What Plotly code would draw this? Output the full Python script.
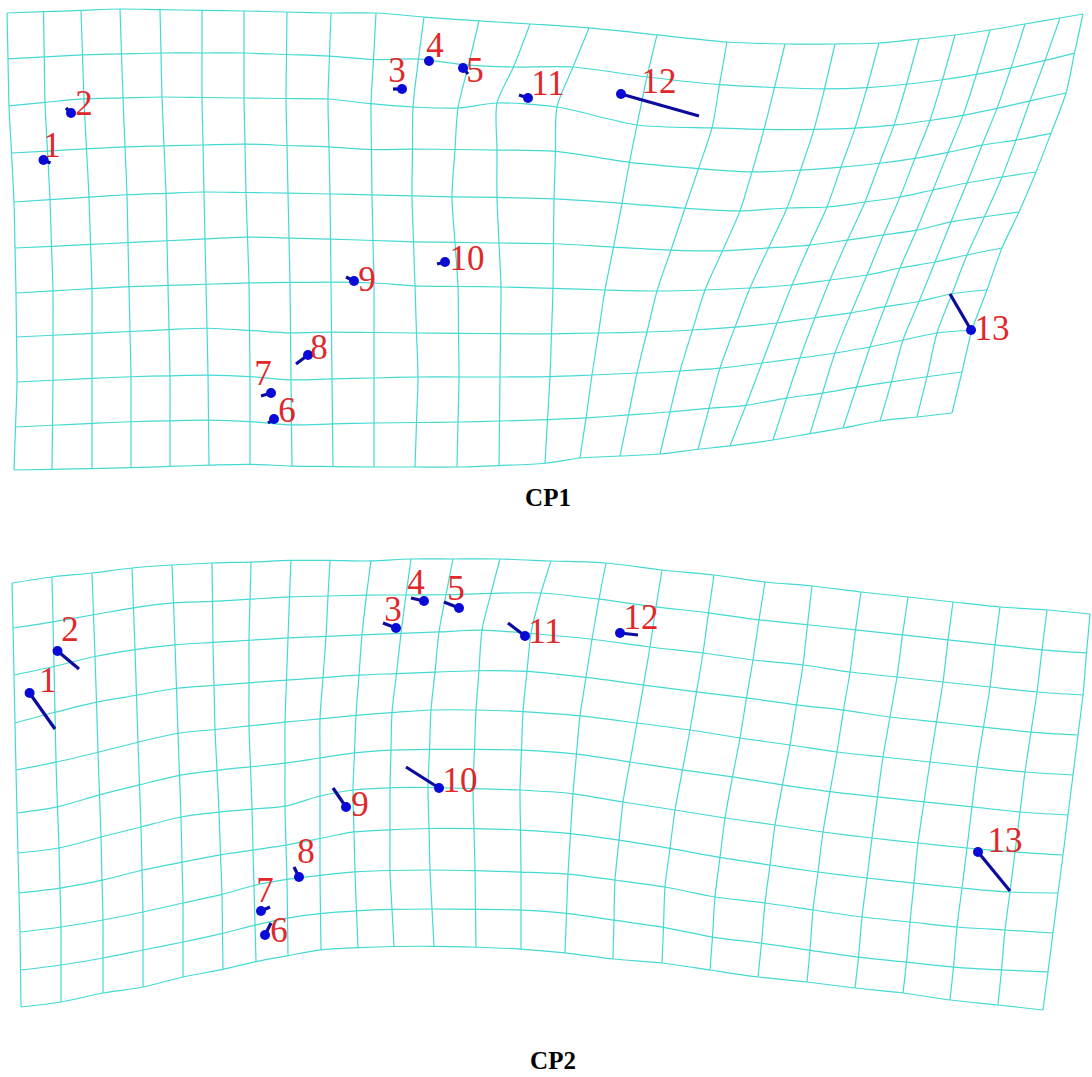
import numpy as np
import plotly.graph_objects as go

# ---------------- data (pixel coordinates) ----------------
landmark_ids = [str(i) for i in range(1, 14)]

# rows at which the x position of every vertical grid line was read
col_read_rows = [0, 2, 4, 6, 8, 10]

# CP1: x of each of the 25 vertical grid lines at rows 0, 2, 4, 6, 8, 10
cp1_col_x = [
    [7, 9, 14, 16, 17, 14], [43.5, 45, 50, 53, 53, 52], [81, 84, 89, 92, 92, 92],
    [120, 123, 127, 129, 131, 131], [160, 162, 166, 168, 170, 170], [202, 202, 204, 206, 208, 209],
    [244, 244, 246, 249, 250, 250], [287, 286, 288, 290, 291, 292], [331, 328, 330, 331, 332, 333],
    [376, 371, 372, 374, 374, 374], [424, 413, 412, 415, 418, 415], [479, 458, 452, 458, 459, 457],
    [530, 497, 497, 501, 500, 499], [589, 557, 554, 553, 550, 545], [657, 637, 622, 605, 592, 580],
    [727, 712, 685, 657, 637, 620], [785, 764, 740, 705, 680, 660], [835, 814, 787, 750, 720, 698],
    [879, 855, 827, 792, 762, 730], [919, 894, 865, 830, 800, 773], [955, 930, 900, 867, 835, 810],
    [990, 963, 933, 900, 870, 843], [1025, 997, 967, 935, 903, 880], [1060, 1030, 1002, 967, 937, 917],
    [1083, 1066, 1036, 1002, 972, 952],
]
# CP1: each of the 11 horizontal grid lines as (x, y) points
cp1_rows = [
    [(7, 13), (120, 9), (244, 11), (331, 13), (380, 13), (423, 17), (480, 21), (530, 24), (590, 28),
     (658, 35), (727, 42), (785, 44), (835, 44), (879, 43), (919, 39), (955, 35), (990, 30),
     (1025, 24), (1060, 18), (1083, 14)],
    [(7, 59), (80, 55), (160, 53), (244, 53), (329, 56), (380, 60), (423, 59), (463, 65), (513, 67),
     (573, 67), (647, 77), (723, 85), (785, 88), (835, 89), (879, 87), (919, 83), (955, 78),
     (990, 72), (1025, 65), (1060, 57), (1075, 53)],
    [(7, 106), (80, 99), (160, 97), (244, 98), (329, 99), (374, 104), (413, 107), (458, 108),
     (497, 103), (557, 107), (637, 125), (713, 128), (785, 130), (835, 129), (879, 127), (919, 122),
     (955, 117), (990, 110), (1025, 102), (1066, 93)],
    [(12, 153), (120, 147), (244, 144), (331, 147), (380, 150), (418, 149), (495, 150), (553, 151),
     (626, 162), (690, 168), (753, 172), (803, 170), (843, 167), (882, 163), (917, 158), (950, 152),
     (983, 145), (1017, 140), (1053, 133)],
    [(14, 202), (120, 195), (202, 192), (286, 193), (374, 195), (460, 197), (540, 198), (618, 203),
     (680, 208), (738, 211), (787, 208), (827, 207), (865, 202), (900, 197), (933, 190), (967, 183),
     (1002, 177), (1036, 172)],
    [(16, 248), (120, 243), (244, 237), (329, 239), (418, 242), (501, 243), (540, 243), (612, 247),
     (668, 250), (720, 251), (768, 248), (810, 245), (848, 240), (883, 235), (918, 230), (950, 222),
     (983, 217), (1017, 212)],
    [(16, 293), (120, 287), (244, 283), (329, 282), (374, 283), (418, 286), (501, 287), (540, 288),
     (605, 290), (657, 291), (705, 290), (750, 288), (792, 285), (830, 280), (867, 275), (900, 268),
     (935, 262), (967, 255), (1002, 248)],
    [(17, 337), (120, 332), (202, 328), (244, 330), (286, 333), (329, 332), (418, 333), (540, 334),
     (598, 333), (647, 332), (693, 330), (737, 327), (777, 323), (813, 318), (850, 313), (883, 307),
     (917, 302), (950, 294), (985, 290)],
    [(17, 382), (120, 377), (202, 375), (244, 376), (286, 380), (329, 379), (418, 377), (540, 377),
     (592, 375), (637, 373), (680, 371), (722, 368), (762, 363), (800, 358), (835, 353), (870, 347),
     (903, 340), (937, 333), (972, 330)],
    [(16, 427), (120, 422), (202, 420), (244, 421), (286, 425), (374, 423), (460, 422), (540, 420),
     (585, 418), (628, 415), (670, 412), (712, 408), (750, 405), (787, 398), (823, 393), (857, 387),
     (890, 382), (925, 377), (962, 372)],
    [(14, 470), (120, 468), (244, 464), (286, 466), (374, 467), (460, 467), (540, 464), (580, 458),
     (620, 456), (660, 454), (700, 449), (738, 445), (773, 440), (843, 428), (880, 421), (917, 417),
     (952, 413)],
]

# CP2
cp2_col_x = [
    [12, 14, 16, 18, 20, 21], [52, 54, 56, 59, 61, 61], [92, 95, 98, 101, 103, 103],
    [132, 135, 138, 141, 143, 143], [172, 175, 178, 181, 183, 183], [212, 213, 215, 219, 222, 223],
    [251, 249, 249, 252, 254, 256], [291, 288, 285, 285, 287, 288], [330, 326, 320, 320, 320, 321],
    [371, 362, 356, 353, 355, 358], [411, 401, 392, 390, 390, 394], [453, 439, 431, 428, 430, 434],
    [500, 482, 476, 473, 475, 476], [551, 531, 523, 520, 521, 521], [606, 592, 580, 573, 568, 565],
    [662, 650, 637, 623, 615, 613], [714, 703, 690, 675, 665, 662], [765, 753, 740, 725, 715, 710],
    [812, 803, 790, 775, 765, 758], [861, 850, 837, 823, 813, 807], [908, 897, 883, 872, 862, 855],
    [953, 943, 930, 918, 910, 903], [1000, 990, 977, 967, 957, 950], [1047, 1037, 1025, 1015, 1005, 998],
    [1090, 1083, 1073, 1063, 1053, 1043],
]
cp2_rows = [
    [(12, 583), (52, 577), (92, 573), (132, 568), (172, 565), (212, 563), (252, 562), (300, 560),
     (370, 561), (411, 559), (453, 559), (500, 559), (551, 561), (606, 563), (662, 570), (714, 575),
     (765, 582), (812, 586), (861, 592), (908, 597), (953, 602), (1000, 607), (1047, 610), (1090, 614)],
    [(13, 628), (52, 622), (92, 615), (132, 608), (172, 603), (220, 601), (287, 597), (370, 595),
     (437, 595), (503, 593), (553, 593), (590, 598), (657, 607), (710, 613), (760, 620), (810, 625),
     (857, 630), (903, 635), (950, 640), (997, 645), (1043, 650), (1087, 653)],
    [(14, 675), (52, 667), (92, 657), (132, 650), (172, 645), (220, 642), (287, 638), (360, 635),
     (437, 632), (487, 630), (537, 634), (590, 639), (650, 647), (703, 653), (753, 660), (803, 665),
     (850, 672), (897, 677), (943, 682), (990, 687), (1037, 692), (1083, 695)],
    [(15, 723), (56, 712), (97, 702), (138, 695), (178, 688), (220, 685), (287, 680), (360, 675),
     (437, 672), (503, 670), (553, 673), (590, 678), (643, 685), (697, 692), (747, 698), (797, 705),
     (843, 710), (890, 717), (937, 722), (983, 727), (1030, 732), (1078, 735)],
    [(16, 770), (57, 762), (99, 752), (139, 742), (179, 733), (220, 729), (287, 722), (360, 715),
     (427, 710), (487, 710), (553, 713), (590, 717), (637, 723), (690, 730), (740, 738), (790, 745),
     (837, 752), (883, 757), (930, 762), (977, 767), (1025, 772), (1073, 775)],
    [(17, 813), (57, 807), (99, 795), (139, 785), (181, 775), (220, 770), (287, 763), (353, 753),
     (393, 750), (453, 749), (520, 750), (590, 755), (630, 762), (683, 770), (733, 777), (783, 785),
     (832, 792), (878, 797), (925, 802), (973, 807), (1020, 812), (1068, 815)],
    [(18, 853), (59, 848), (101, 837), (141, 827), (181, 817), (220, 812), (287, 806), (330, 793),
     (353, 790), (403, 787), (453, 788), (520, 790), (590, 795), (623, 802), (675, 810), (725, 818),
     (775, 825), (823, 832), (872, 838), (918, 843), (967, 848), (1015, 852), (1063, 855)],
    [(19, 893), (61, 888), (103, 880), (143, 870), (183, 862), (220, 855), (287, 845), (353, 832),
     (403, 829), (453, 828), (520, 830), (590, 835), (618, 840), (668, 848), (718, 857), (770, 865),
     (818, 872), (867, 878), (913, 883), (962, 888), (1010, 892), (1058, 893)],
    [(20, 932), (61, 927), (103, 920), (143, 912), (183, 903), (220, 895), (263, 883), (303, 877),
     (353, 872), (403, 870), (453, 870), (520, 872), (590, 875), (615, 880), (665, 887), (715, 897),
     (765, 903), (813, 910), (862, 917), (910, 922), (957, 927), (1005, 930), (1053, 933)],
    [(21, 970), (61, 965), (103, 958), (143, 950), (183, 942), (220, 934), (263, 923), (303, 915),
     (353, 911), (403, 909), (453, 909), (520, 910), (590, 915), (613, 920), (662, 927), (712, 937),
     (760, 943), (808, 950), (857, 957), (905, 962), (953, 967), (1002, 970), (1050, 972)],
    [(21, 1007), (61, 1002), (103, 993), (143, 987), (183, 977), (220, 970), (263, 960), (320, 950),
     (370, 947), (420, 946), (470, 947), (520, 949), (590, 955), (613, 959), (662, 963), (710, 970),
     (758, 977), (807, 982), (855, 988), (903, 993), (950, 1000), (998, 1005), (1043, 1010)],
]

# landmarks: dot position, vector end, label position
cp1_dot_x = [43.5, 71, 402, 429, 463, 274, 271, 308, 354, 445, 528, 621, 971]
cp1_dot_y = [160, 113, 89, 61, 68, 419, 393, 355, 281, 262, 98, 94, 330]
cp1_vec_x = [50.5, 66, 393, 425, 468, 268, 261, 296, 346, 437, 519, 699, 950]
cp1_vec_y = [163, 108, 89, 59, 74, 423, 396, 364, 277, 264, 95, 116, 294]
cp1_lab_x = [52, 84, 397, 435, 475, 287, 263, 319, 367, 467, 548, 659, 992]
cp1_lab_y = [148, 106, 73, 48, 73, 413, 376, 350, 282, 261, 86, 84, 331]

cp2_dot_x = [29.6, 57.5, 396, 424, 459, 265, 261, 299, 346, 439, 525, 620, 978]
cp2_dot_y = [693, 651, 628, 601, 608, 935, 911, 877, 807, 788, 636, 633, 852]
cp2_vec_x = [55, 79, 383, 411, 444, 271, 270, 294, 333, 406, 508, 638, 1010]
cp2_vec_y = [729, 669, 623, 598, 602, 923, 907, 867, 788, 767, 623, 635, 891]
cp2_lab_x = [48, 70, 393, 416, 456, 279, 265, 306, 360, 460, 545, 641, 1005]
cp2_lab_y = [683, 632, 612, 585, 591, 933, 893, 854, 807, 783, 634, 620, 843]

panel_titles = ["CP1", "CP2"]
title_x = [548, 553]
title_y = [500, 1063]

# ---------------- styles ----------------
W, H = 1092, 1077
GRID_COLOR = "#45d9d2"
VEC_COLOR = "#0b0b9e"
DOT_COLOR = "#0a0ad8"
LAB_COLOR = "#e0282a"
NUM_FONT = "Liberation Serif, Times New Roman, serif"

fig = go.Figure()


def add_grid(col_x, rows):
    ncol = len(col_x)
    nrow = len(rows)
    X = np.zeros((nrow, ncol))
    Y = np.zeros((nrow, ncol))
    for r in range(nrow):
        rx = [p[0] for p in rows[r]]
        ry = [p[1] for p in rows[r]]
        for c in range(ncol):
            X[r, c] = np.interp(r, col_read_rows, col_x[c])
            Y[r, c] = np.interp(X[r, c], rx, ry)
    style = dict(color=GRID_COLOR, width=1.2, shape="spline", smoothing=0.8)
    for r in range(nrow):
        fig.add_trace(go.Scatter(x=X[r], y=Y[r], mode="lines", line=style,
                                 hoverinfo="skip", showlegend=False))
    for c in range(ncol):
        fig.add_trace(go.Scatter(x=X[:, c], y=Y[:, c], mode="lines", line=style,
                                 hoverinfo="skip", showlegend=False))


def add_landmarks(dx, dy, vx, vy, lx, ly):
    xs, ys = [], []
    for i in range(len(dx)):
        xs += [dx[i], vx[i], None]
        ys += [dy[i], vy[i], None]
    fig.add_trace(go.Scatter(x=xs, y=ys, mode="lines",
                             line=dict(color=VEC_COLOR, width=3.2),
                             hoverinfo="skip", showlegend=False))
    fig.add_trace(go.Scatter(x=dx, y=dy, mode="markers",
                             marker=dict(color=DOT_COLOR, size=10, line=dict(width=0)),
                             hoverinfo="skip", showlegend=False))
    fig.add_trace(go.Scatter(x=lx, y=ly, mode="text", text=landmark_ids,
                             textposition="middle center",
                             textfont=dict(family=NUM_FONT, size=35, color=LAB_COLOR),
                             hoverinfo="skip", showlegend=False))


add_grid(cp1_col_x, cp1_rows)
add_grid(cp2_col_x, cp2_rows)
add_landmarks(cp1_dot_x, cp1_dot_y, cp1_vec_x, cp1_vec_y, cp1_lab_x, cp1_lab_y)
add_landmarks(cp2_dot_x, cp2_dot_y, cp2_vec_x, cp2_vec_y, cp2_lab_x, cp2_lab_y)

fig.add_trace(go.Scatter(x=title_x, y=title_y, mode="text", text=["<b>%s</b>" % t for t in panel_titles],
                         textposition="middle center",
                         textfont=dict(family=NUM_FONT, size=25, color="black"),
                         hoverinfo="skip", showlegend=False))

fig.update_layout(
    width=W, height=H,
    margin=dict(l=0, r=0, t=0, b=0),
    paper_bgcolor="white", plot_bgcolor="white",
    xaxis=dict(range=[0, W], visible=False, fixedrange=True),
    yaxis=dict(range=[H, 0], visible=False, fixedrange=True),
    showlegend=False,
)

fig.write_html(
    "out.html",
    config={"displayModeBar": False, "staticPlot": True},
    post_script="document.body.style.margin='0';document.body.style.overflow='hidden';",
)
